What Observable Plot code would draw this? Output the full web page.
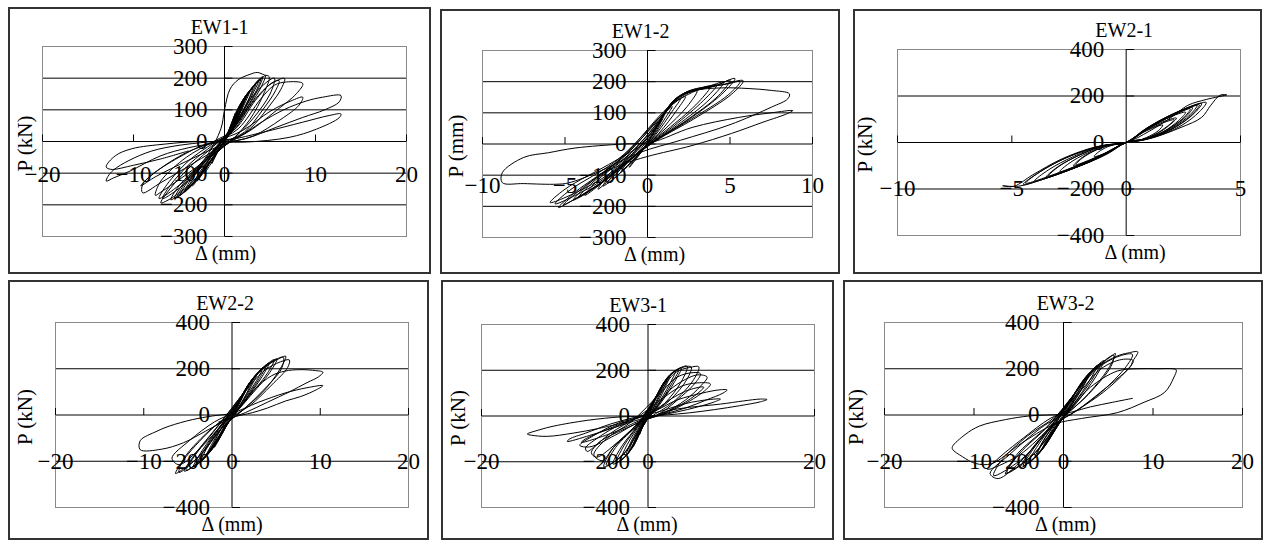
<!DOCTYPE html>
<html>
<head>
<meta charset="utf-8">
<script src="https://cdn.jsdelivr.net/npm/d3@7"></script>
<script src="https://cdn.jsdelivr.net/npm/@observablehq/plot@0.6"></script>
<style>
  html, body { margin: 0; padding: 0; background: #fff; }
  #root { position: relative; width: 1263px; height: 541px; overflow: hidden; background: #fff; }
  .pnl { position: absolute; }
  .brd { position: absolute; box-sizing: border-box; border: 2px solid #333; pointer-events: none; }
</style>
</head>
<body>
<div id="root"></div>
<script>
// ---------------- data ----------------
const titles = ["EW1-1", "EW1-2", "EW2-1", "EW2-2", "EW3-1", "EW3-2"];
const yAxisLabels = ["P (kN)", "P (mm)", "P (kN)", "P (kN)", "P (kN)", "P (kN)"];
const xAxisLabel = "Δ (mm)";

const xDomains = [[-20, 20], [-10, 10], [-10, 5], [-20, 20], [-20, 20], [-20, 20]];
const yDomains = [[-300, 300], [-300, 300], [-400, 400], [-400, 400], [-400, 400], [-400, 400]];

const xTicks = [
  [-20, -10, 0, 10, 20],
  [-10, -5, 0, 5, 10],
  [-10, -5, 0, 5],
  [-20, -10, 0, 10, 20],
  [-20, 0, 20],
  [-20, -10, 0, 10, 20]
];
const yTicks = [
  [300, 200, 100, 0, -100, -200, -300],
  [300, 200, 100, 0, -100, -200, -300],
  [400, 200, 0, -200, -400],
  [400, 200, 0, -200, -400],
  [400, 200, 0, -200, -400],
  [400, 200, 0, -200, -400]
];
// level (in y units) at which the x tick labels sit
const xLabelLevels = [-105, -132, -200, -200, -200, -200];

// hysteresis curves, [Δ (mm), P (kN)]
const ew11 = [
[0,0],[0.6,45],[1.2,90],[0.9,65],[0.2,15],[-0.6,-25],[-1.4,-70],[-1.0,-45],[-0.3,-10],
[0.4,30],[1.3,95],[1.9,125],[1.5,95],[0.6,30],[-0.5,-20],[-1.6,-75],[-2.2,-100],[-1.7,-70],[-0.6,-15],
[0.5,35],[1.6,110],[2.5,150],[2.0,115],[0.8,40],[-0.4,-15],[-1.9,-80],[-3.0,-125],[-2.4,-90],[-0.9,-25],
[0.5,30],[1.5,100],[2.3,140],[1.9,105],[0.9,40],[-0.3,-10],[-1.8,-75],[-2.8,-115],[-2.2,-80],[-0.8,-20],
[0.5,30],[1.8,120],[2.8,160],[2.3,125],[1.0,50],[-0.3,-10],[-2.2,-90],[-3.5,-140],[-2.8,-100],[-1.0,-30],
[0.6,38],[2.0,130],[3.1,170],[2.6,130],[1.1,50],[-0.2,-8],[-2.4,-95],[-4.0,-150],[-3.3,-108],[-1.2,-32],
[0.6,35],[2.1,135],[3.4,180],[2.8,140],[1.2,55],[-0.2,-5],[-2.6,-105],[-4.4,-160],[-3.6,-115],[-1.3,-35],
[0.7,40],[2.3,140],[3.8,195],[3.1,150],[1.4,60],[0,0],[-2.9,-115],[-4.9,-170],[-4.0,-125],[-1.5,-40],
[0.7,42],[2.4,145],[4.0,200],[3.4,155],[1.6,68],[0.1,5],[-3.0,-118],[-5.2,-176],[-4.3,-130],[-1.6,-42],
[0.8,45],[2.6,150],[4.2,205],[3.6,160],[1.8,75],[0.2,10],[-3.2,-125],[-5.5,-180],[-4.6,-135],[-1.8,-45],
[0.9,50],[2.8,158],[4.5,208],[3.9,165],[2.0,80],[0.3,12],[-3.4,-128],[-5.9,-184],[-5.0,-140],[-2.0,-48],
[-0.4,40],[0,100],[0.6,165],[1.5,195],[2.8,212],[3.6,218],[4.4,210],[4.9,205],[4.3,150],[2.8,70],[1.0,10],[-0.8,-35],[-3.8,-135],[-6.2,-185],[-7.0,-194],[-6.0,-150],[-3.6,-75],[-1.2,-15],
[0.8,40],[3.0,140],[5.0,195],[5.5,200],[5.0,150],[3.2,75],[1.2,15],[-0.8,-30],[-4.2,-130],[-6.8,-180],[-6.0,-140],[-3.8,-70],[-1.2,-10],
[1.0,35],[3.0,120],[5.0,180],[6.6,199],[6.2,165],[5.0,115],[2.8,40],[0.2,-10],[-3.5,-90],[-7.0,-160],[-7.6,-170],[-7.0,-125],[-4.2,-50],[-1.2,0],
[1.2,40],[3.4,130],[5.2,185],[6.0,192],[5.6,160],[4.2,100],[2.2,30],[0,-5],[-3.8,-110],[-6.5,-170],[-7.2,-180],[-6.3,-135],[-3.9,-60],[-1.2,-5],
[1.5,40],[4.0,135],[5.5,178],[6.8,188],[8.6,183],[7.9,151],[5.7,98],[2.8,34],[0.3,-5],[-3.5,-70],[-7.0,-130],[-9.0,-162],[-9.0,-136],[-7.5,-95],[-4.2,-35],[-1.0,0],
[2.0,35],[5.0,95],[7.3,128],[8.6,140],[8.2,115],[6.2,70],[3.2,18],[0,-8],[-4.0,-60],[-7.5,-110],[-9.2,-140],[-8.0,-105],[-5.0,-50],[-2.0,-8],
[1.5,15],[4.0,60],[6.5,100],[9.0,128],[10.8,140],[12.8,145],[12.6,125],[11.0,100],[8.6,76],[5.7,45],[2.2,8],[-1,-5],[-4,-20],[-7,-45],[-10.5,-95],[-12.2,-115],[-13,-125],[-12.8,-110],[-12.2,-90],[-10.5,-60],[-8,-30],[-5,-12],[-2,-2],[0.5,5],
[4.2,29],[8.6,61],[11.5,82],[12.8,87],[12.6,75],[10.1,39],[7.1,13],[2.2,-2],[-2.7,0],[-6.5,-8],[-10.2,-23],[-12,-45],[-13,-80],[-12.5,-88],[-10,-75],[-7,-55],[-4,-30]
];

const ew12 = [
[0,0],[0.4,40],[0.9,80],[0.6,55],[0.1,10],[-0.5,-35],[-1.1,-75],[-0.8,-50],[-0.2,-10],
[0.4,40],[1.0,95],[1.5,120],[1.1,85],[0.3,20],[-0.6,-40],[-1.6,-90],[-1.3,-65],[-0.4,-15],
[0.5,50],[1.2,110],[2.0,145],[1.5,105],[0.5,30],[-0.6,-35],[-1.8,-100],[-2.4,-125],[-1.9,-85],[-0.6,-20],
[0.5,55],[1.3,118],[2.3,152],[1.8,110],[0.7,35],[-0.5,-30],[-1.9,-105],[-2.7,-135],[-2.1,-92],[-0.7,-22],
[0.6,60],[1.4,125],[2.5,160],[3.0,170],[2.4,120],[1.0,45],[-0.4,-20],[-2.0,-100],[-3.0,-145],[-2.4,-100],[-0.8,-25],
[0.7,70],[1.6,140],[3.0,175],[3.8,185],[3.1,135],[1.4,55],[-0.2,-10],[-2.4,-110],[-3.8,-165],[-3.0,-115],[-1.0,-30],
[0.7,75],[1.7,145],[3.4,180],[4.2,190],[3.4,140],[1.6,58],[-0.1,-8],[-2.6,-118],[-4.2,-172],[-3.3,-122],[-1.1,-32],
[0.8,80],[1.8,150],[3.5,180],[4.6,198],[3.8,145],[1.8,60],[0,-5],[-2.8,-125],[-4.5,-180],[-3.6,-130],[-1.3,-35],
[0.9,95],[2.1,160],[4.2,188],[5.0,205],[4.3,155],[2.2,70],[0.2,0],[-2.9,-128],[-5.1,-195],[-4.1,-148],[-1.5,-42],
[0.9,90],[2.0,155],[4.0,185],[5.3,210],[4.5,160],[2.4,75],[0.3,5],[-3.0,-130],[-5.4,-204],[-4.4,-155],[-1.6,-45],
[1.0,105],[2.4,168],[4.8,192],[5.6,200],[4.9,158],[2.6,78],[0.4,8],[-3.1,-128],[-5.6,-192],[-4.7,-148],[-1.8,-50],
[1.0,100],[2.3,165],[4.5,190],[5.8,203],[5.1,160],[2.8,80],[0.5,10],[-3.2,-125],[-5.9,-188],[-5.0,-145],[-2.0,-55],
[0.2,20],[1.5,130],[2.8,170],[4.5,180],[6.1,178],[7.5,172],[8.6,161],[8.5,145],[7.5,118],[5.0,62],[2.0,12],[-0.5,-28],[-3.0,-90],[-4.8,-125],[-5.5,-129],[-7.5,-127],[-8.8,-124],[-8.8,-92],[-7.5,-43],[-6,-28],[-4.4,-13],[-1.5,0],[0.2,5],
[2.7,53],[5.5,85],[7.5,100],[8.8,107],[8.5,98],[7,70],[5.1,34],[2.7,-5],[0,-40],[-1.5,-65],[-3.0,-100]
];

const ew21 = [
[0,0],[0.5,30],[1.1,60],[1.6,75],[1.4,50],[0.9,22],[0.4,5],[0,0],[-0.5,-25],[-1.0,-50],[-1.4,-60],[-1.2,-40],[-0.8,-18],[-0.3,-4],[0,0],
[0.7,45],[1.5,85],[2.2,105],[1.9,75],[1.3,35],[0.6,8],[0,0],[-0.7,-40],[-1.6,-80],[-2.3,-100],[-2.0,-70],[-1.4,-35],[-0.6,-8],[0,0],
[0.6,38],[1.5,80],[2.1,98],[1.8,70],[1.2,32],[0.5,7],[0,0],[-0.7,-35],[-1.6,-75],[-2.2,-95],[-1.9,-66],[-1.3,-32],[-0.5,-7],[0,0],
[0.8,55],[1.8,105],[2.6,130],[2.3,95],[1.6,45],[0.8,12],[0,0],[-0.8,-48],[-2.0,-100],[-2.9,-125],[-2.5,-90],[-1.7,-45],[-0.8,-10],[0,0],
[0.9,62],[2.0,120],[2.9,150],[2.6,110],[1.8,55],[0.9,15],[0,0],[-1.0,-55],[-2.4,-115],[-3.5,-150],[-3.0,-105],[-2.0,-52],[-1.0,-13],[0,0],
[0.9,58],[2.0,115],[2.8,145],[2.5,105],[1.7,50],[0.8,13],[0,0],[-1.0,-50],[-2.4,-110],[-3.4,-145],[-2.9,-100],[-1.9,-48],[-0.9,-11],[0,0],
[1.0,68],[2.2,130],[3.1,160],[2.8,120],[2.0,62],[1.0,18],[0,0],[-1.1,-60],[-2.8,-130],[-4.0,-165],[-3.4,-118],[-2.3,-60],[-1.1,-15],[0,0],
[1.1,72],[2.4,138],[3.3,168],[3.0,128],[2.2,68],[1.1,20],[0,0],[-1.2,-65],[-3.1,-140],[-4.5,-180],[-3.8,-128],[-2.6,-65],[-1.2,-17],[0,0],
[1.1,68],[2.4,132],[3.2,162],[2.9,122],[2.1,64],[1.0,18],[0,0],[-1.2,-60],[-3.1,-135],[-4.4,-175],[-3.7,-122],[-2.5,-60],[-1.1,-15],[0,0],
[1.2,78],[2.6,145],[3.5,172],[3.2,132],[2.4,72],[1.2,22],[0,0],[-1.3,-70],[-3.4,-150],[-4.7,-188],[-5.4,-186],[-4.9,-188],[-4.1,-140],[-2.8,-70],[-1.3,-18],[0,0],
[1.0,48],[2.0,110],[2.7,160],[3.5,185],[4.4,205],[4.1,203],[3.7,160],[3.3,108],[2.4,65],[1.05,17],[0.2,2]
];

const ew22 = [
[0,0],[0.5,35],[1.1,80],[0.8,55],[0.2,10],[-0.5,-35],[-1.1,-80],[-0.8,-50],[-0.2,-8],
[0.6,45],[1.5,110],[2.0,140],[1.5,100],[0.5,25],[-0.6,-45],[-1.6,-115],[-2.0,-140],[-1.5,-95],[-0.4,-15],
[0.7,50],[1.7,122],[2.4,158],[1.9,112],[0.7,30],[-0.6,-45],[-1.8,-125],[-2.5,-158],[-1.9,-108],[-0.6,-20],
[0.7,55],[1.9,135],[2.8,175],[2.2,125],[0.8,35],[-0.6,-45],[-2.0,-135],[-2.9,-175],[-2.2,-120],[-0.7,-25],
[0.8,60],[2.2,150],[3.5,205],[2.8,150],[1.0,45],[-0.6,-40],[-2.4,-155],[-3.6,-205],[-2.8,-140],[-0.9,-30],
[0.8,65],[2.4,160],[3.9,215],[3.1,158],[1.2,50],[-0.5,-38],[-2.6,-162],[-4.0,-215],[-3.1,-148],[-1.0,-32],
[0.9,70],[2.6,170],[4.2,225],[3.4,165],[1.3,55],[-0.5,-35],[-2.8,-170],[-4.4,-225],[-3.4,-155],[-1.1,-35],
[1.0,80],[3.0,185],[4.8,240],[4.0,180],[1.6,65],[-0.4,-30],[-3.2,-185],[-5.2,-240],[-4.1,-170],[-1.4,-40],
[1.1,85],[3.2,190],[5.1,243],[4.3,185],[1.8,70],[-0.4,-30],[-3.4,-190],[-5.4,-243],[-4.3,-175],[-1.5,-42],
[1.2,90],[3.3,195],[5.4,245],[6.1,254],[5.3,190],[3.5,100],[1.0,15],[-1.0,-50],[-3.6,-175],[-5.6,-235],[-6.4,-253],[-5.2,-180],[-2.0,-50],[0.2,15],
[1.3,95],[3.5,200],[5.8,250],[5.6,200],[3.5,105],[1.2,20],[-1.0,-50],[-3.8,-180],[-6.0,-248],[-5.4,-185],[-2.2,-55],[0.2,12],
[1.5,100],[3.6,190],[5.5,230],[6.5,238],[6.3,205],[4.5,130],[2.0,40],[-0.5,-20],[-3.5,-140],[-6.0,-215],[-6.8,-187],[-4.8,-110],[-2.0,-30],[0.5,20],
[2.5,110],[4.5,170],[6.0,190],[7.7,196],[9.5,192],[10.3,185],[9.8,165],[8.5,140],[6.5,100],[4,55],[1.5,10],[-0.5,-20],[-3,-70],[-5.5,-120],[-8,-148],[-10.4,-150],[-10.4,-111],[-8.5,-70],[-7.1,-48],[-4.5,-20],[-2.2,-4],[0,8],
[3.0,55],[6.0,95],[8.5,118],[10.3,127],[9.6,110],[7.8,80],[6.1,61],[4,30],[2.3,10],[0,-10],[-1.5,-30]
];

const ew31 = [
[0,0],[0.5,40],[1.0,85],[0.7,55],[0.2,10],[-0.5,-35],[-1.0,-80],[-0.7,-50],[-0.2,-8],
[0.6,50],[1.4,115],[1.9,145],[1.4,100],[0.5,25],[-0.6,-45],[-1.5,-115],[-1.9,-140],[-1.4,-90],[-0.4,-15],
[0.6,55],[1.6,128],[2.3,160],[1.7,110],[0.6,30],[-0.6,-45],[-1.7,-128],[-2.3,-155],[-1.7,-100],[-0.5,-18],
[0.7,60],[1.8,140],[2.6,175],[2.0,120],[0.8,35],[-0.6,-45],[-1.9,-140],[-2.6,-170],[-2.0,-110],[-0.6,-20],
[0.8,70],[2.2,160],[3.3,195],[2.6,140],[1.0,40],[-0.6,-40],[-2.3,-160],[-3.3,-195],[-2.5,-125],[-0.8,-25],
[0.8,75],[2.4,170],[3.7,203],[2.9,145],[1.2,45],[-0.5,-35],[-2.5,-168],[-3.8,-203],[-2.9,-130],[-0.9,-28],
[0.9,80],[2.6,180],[4.0,210],[3.2,150],[1.4,50],[-0.4,-30],[-2.7,-175],[-4.2,-210],[-3.2,-135],[-1.0,-30],
[1.0,85],[3.0,190],[4.7,218],[4.0,150],[2.0,55],[0,-5],[-3.0,-170],[-5.3,-222],[-4.2,-140],[-1.2,-30],
[1.0,88],[3.1,192],[4.4,215],[5.2,214],[4.5,150],[2.3,58],[0,-5],[-3.1,-172],[-5.0,-215],[-3.9,-138],[-1.1,-30],
[1.3,95],[3.3,190],[5.0,212],[6.1,215],[5.5,160],[3.0,60],[0.3,-5],[-2.5,-80],[-4.2,-140],[-5.5,-195],[-6.5,-170],[-5,-100],[-2,-25],
[1.5,100],[3.5,170],[5.5,190],[6.3,185],[5.8,150],[4.0,85],[1.6,15],[-1.0,-30],[-3.5,-110],[-6.2,-180],[-6.8,-160],[-5.2,-95],[-2.2,-25],
[0.5,20],[2.5,110],[4.5,160],[6.0,180],[7.1,170],[6.3,130],[4.5,70],[2.0,15],[-0.5,-20],[-3.0,-60],[-5.5,-105],[-7.3,-155],[-7.5,-140],[-6.2,-100],[-4.0,-50],[-1.5,-10],
[1.5,70],[4.0,130],[6.0,145],[7.5,140],[6.8,110],[4.5,55],[1.8,8],[-1,-25],[-4,-85],[-7.0,-135],[-8.2,-128],[-6.5,-85],[-3.5,-30],[-1,-5],
[1.0,30],[3.0,80],[5.0,115],[6.7,126],[6.0,100],[4.0,50],[1.5,8],[-1,-20],[-4,-70],[-8.0,-115],[-7.5,-100],[-5,-60],[-2,-15],
[1.0,25],[3.5,70],[6.5,100],[8.5,114],[9.5,114],[9.0,100],[7.0,70],[4.5,35],[1.5,5],[-1,-15],[-4,-50],[-7,-85],[-9.7,-111],[-9.4,-100],[-7.5,-75],[-4.5,-35],[-1.5,-5],
[1.5,20],[4.0,50],[6.5,68],[8.7,74],[8.0,62],[6.0,40],[3.5,18],[1.0,2],
[2.3,22],[5.0,38],[8.7,52],[11.5,66],[13.5,74],[14.3,72],[13.5,62],[11,45],[8,28],[5,14],[2,4],[-1,-2],[-3.3,-4],[-7.3,-19],[-11.3,-44],[-13,-60],[-14.5,-79],[-14,-84],[-12.1,-89],[-9,-75],[-6,-55],[-3,-30]
];

const ew32 = [
[0,0],[0.5,40],[1.2,85],[0.9,60],[0.2,10],[-0.6,-40],[-1.3,-85],[-1.0,-55],[-0.2,-8],
[0.6,50],[1.7,120],[2.3,150],[1.8,110],[0.6,30],[-0.7,-50],[-1.9,-125],[-2.4,-150],[-1.8,-100],[-0.5,-15],
[0.7,55],[1.9,130],[2.7,168],[2.1,120],[0.7,33],[-0.7,-50],[-2.1,-135],[-2.9,-168],[-2.2,-110],[-0.6,-18],
[0.7,60],[2.0,140],[3.0,185],[2.3,130],[0.8,35],[-0.7,-50],[-2.3,-145],[-3.2,-185],[-2.4,-120],[-0.7,-20],
[0.8,65],[2.4,160],[3.8,215],[3.0,155],[1.1,45],[-0.6,-40],[-2.7,-165],[-4.0,-210],[-3.0,-140],[-0.9,-25],
[0.9,70],[2.6,168],[4.2,225],[3.3,160],[1.2,48],[-0.6,-38],[-2.9,-170],[-4.5,-220],[-3.4,-148],[-1.0,-28],
[0.9,75],[2.8,175],[4.5,235],[3.6,165],[1.4,50],[-0.6,-35],[-3.0,-175],[-4.8,-228],[-3.7,-155],[-1.1,-30],
[1.0,80],[3.2,190],[5.2,250],[5.8,266],[5.0,200],[2.5,80],[0,-10],[-3.5,-175],[-6.0,-245],[-6.5,-255],[-5.0,-170],[-1.5,-40],
[1.1,85],[3.4,195],[5.6,258],[5.3,210],[2.8,90],[0.1,-8],[-3.6,-180],[-6.3,-250],[-5.3,-175],[-1.7,-45],
[1.2,90],[3.6,200],[6.0,255],[7.2,268],[8.3,273],[7.7,230],[7.5,210],[4.5,110],[1.5,20],[-1.0,-40],[-4.5,-190],[-7.3,-275],[-8.2,-253],[-6.0,-170],[-2.5,-55],[0.3,15],
[1.5,95],[3.9,205],[6.5,258],[7.7,262],[7.2,220],[4.7,115],[1.6,22],[-1.0,-42],[-4.8,-195],[-7.8,-262],[-7.0,-200],[-4.0,-90],[-1.0,-10],
[1.8,100],[4.2,200],[6.5,240],[7.8,235],[7.0,190],[4.5,100],[1.5,20],[-1.0,-40],[-5.0,-175],[-8.5,-235],[-7.5,-195],[-4.5,-100],[-1.5,-15],[0.5,20],
[3.0,120],[6.0,190],[8.3,200],[10.5,200],[12.2,200],[12.6,195],[12.3,160],[11.3,98],[9.0,55],[6.0,10],[2.0,-15],[-1.0,-40],[-5.0,-130],[-8.0,-210],[-9.8,-210],[-11.3,-180],[-12.4,-148],[-12.4,-136],[-11,-85],[-9.4,-48],[-6.5,-20],[-3.8,-4],[0,5],
[3.0,35],[5.5,55],[7.7,72]
];

const series = [ew11, ew12, ew21, ew22, ew31, ew32];

// ---------------- layout (page pixels) ----------------
const boxes = [
  {x: 8,   y: 7,   w: 423, h: 267, ml: 34, mr: 25, mt: 39, mb: 38, ylx: -17, tdx: -5, ldx: 1,  tickDx: -17},
  {x: 440, y: 9,   w: 400, h: 265, ml: 42, mr: 28, mt: 41, mb: 37, ylx: -26, tdx: -7, ldx: 7,  tickDx: -21},
  {x: 853, y: 9,   w: 409, h: 265, ml: 44, mr: 22, mt: 40, mb: 39, ylx: -32, tdx: -2, ldx: 9,  tickDx: -22},
  {x: 8,   y: 280, w: 421, h: 260, ml: 47, mr: 21, mt: 42, mb: 33, ylx: -30, tdx: -7, ldx: 0,  tickDx: -22},
  {x: 441, y: 280, w: 393, h: 260, ml: 40, mr: 20, mt: 44, mb: 33, ylx: -23, tdx: -10, ldx: -1, tickDx: -18},
  {x: 843, y: 280, w: 420, h: 260, ml: 41, mr: 21, mt: 42, mb: 33, ylx: -28, tdx: 2,  ldx: 2,  tickDx: -24}
];

const fmt = v => (v < 0 ? "\u2212" + Math.abs(v) : String(v));
const xTickMark = {draw(ctx) { ctx.moveTo(0, 0); ctx.lineTo(0, -7); }};
const yTickMark = {draw(ctx) { ctx.moveTo(0, 0); ctx.lineTo(8, 0); }};

const root = document.getElementById("root");

for (let i = 0; i < 6; i++) {
  const b = boxes[i];
  const yd = yDomains[i];
  const chart = Plot.plot({
    width: b.w, height: b.h,
    marginLeft: b.ml, marginRight: b.mr, marginTop: b.mt, marginBottom: b.mb,
    x: {domain: xDomains[i], axis: null},
    y: {domain: yd, axis: null},
    style: {fontFamily: "'Liberation Serif', 'DejaVu Serif', serif", background: "transparent", overflow: "visible", color: "#000"},
    marks: [
      Plot.ruleY(yTicks[i].filter(v => v > yd[0] && v < yd[1]), {stroke: "#000", strokeWidth: 1}),
      Plot.frame({stroke: "#8a8a8a", strokeWidth: 1}),
      Plot.ruleX([0], {stroke: "#000", strokeWidth: 1}),
      Plot.dot(xTicks[i].filter(v => v !== 0), {x: d => d, y: 0, symbol: xTickMark, stroke: "#000", fill: "none", strokeWidth: 1}),
      Plot.dot(yTicks[i], {x: 0, y: d => d, symbol: yTickMark, stroke: "#000", fill: "none", strokeWidth: 1}),
      Plot.line(series[i], {curve: "catmull-rom", stroke: "#000", strokeWidth: 1}),
      Plot.text(yTicks[i], {x: 0, y: d => d, text: d => fmt(d), textAnchor: "end", lineAnchor: "middle", dx: b.tickDx, fontSize: 23, fill: "#000"}),
      Plot.text(xTicks[i], {x: d => d, y: xLabelLevels[i], text: d => fmt(d), lineAnchor: "middle", fontSize: 23, fill: "#000"}),
      Plot.text([titles[i]], {x: 0, frameAnchor: "top", lineAnchor: "middle", dy: -19, dx: b.tdx, fontSize: 20, fill: "#000"}),
      Plot.text([xAxisLabel], {x: 0, frameAnchor: "bottom", lineAnchor: "middle", dy: 17, dx: b.ldx, fontSize: 20, fill: "#000"}),
      Plot.text([yAxisLabels[i]], {frameAnchor: "left", textAnchor: "middle", lineAnchor: "middle", rotate: -90, dx: b.ylx, dy: 2, fontSize: 21, fill: "#000"})
    ]
  });
  const holder = document.createElement("div");
  holder.className = "pnl";
  holder.style.left = b.x + "px";
  holder.style.top = b.y + "px";
  holder.style.width = b.w + "px";
  holder.style.height = b.h + "px";
  chart.style.maxWidth = "none";
  holder.appendChild(chart);
  root.appendChild(holder);

  const brd = document.createElement("div");
  brd.className = "brd";
  brd.style.left = b.x + "px";
  brd.style.top = b.y + "px";
  brd.style.width = b.w + "px";
  brd.style.height = b.h + "px";
  root.appendChild(brd);
}
</script>
</body>
</html>
